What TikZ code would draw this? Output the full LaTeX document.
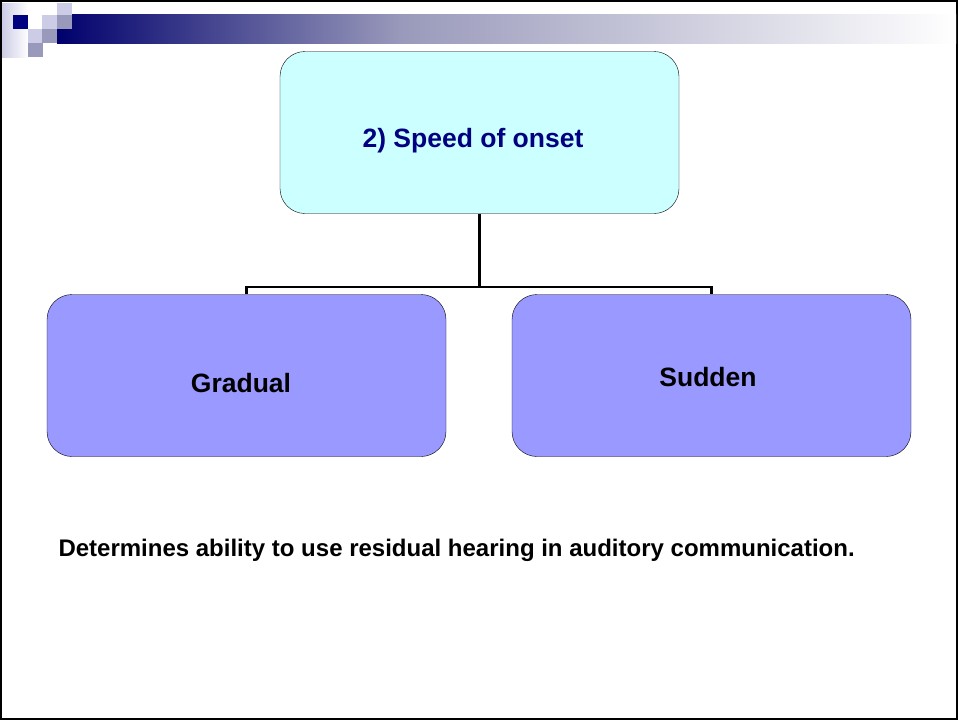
\documentclass[tikz,border=0pt]{standalone}
\usepackage{fontspec}
\setmainfont{Liberation Sans}
\usetikzlibrary{positioning}
\definecolor{navy}{HTML}{000080}
\definecolor{lav}{HTML}{9999BB}
\definecolor{lavlight}{HTML}{CCCCE6}
\definecolor{cyanbox}{HTML}{CCFFFF}
\definecolor{bluebox}{HTML}{9999FF}

\begin{document}
\begin{tikzpicture} [x=1pt, y=-1pt,
    box/.style={draw, rounded corners=25pt, minimum width=399pt, minimum height=162pt,
      inner sep=0pt},
    lbl/.style={font=\bfseries\fontsize{26.5}{30}\selectfont},
    tree/.style={line width=2.5pt}
  ]
  \useasboundingbox (0,0) rectangle (958,720);
  % slide frame
  \draw[line width=1.5pt] (1,1) rectangle (957,719);
  % title bar
  \shade[left color=lavlight, right color=white] (2,3) rectangle (28,57);
  \shade[left color=navy!85!black, right color=lav] (57,14) rectangle (400,43);
  \shade[left color=lav, right color=white] (400,14) rectangle (956,43);
  \fill[white] (57,14) rectangle (72,29);
  \fill[navy] (13,15) rectangle (28,29);
  \fill[lavlight] (28,29) rectangle (42,43);
  \fill[lav] (42,29) rectangle (57,43);
  \fill[lavlight] (42,15) rectangle (57,29);
  \fill[lav] (57,15) rectangle (72,29);
  \fill[lavlight] (57,3) rectangle (72,15);
  \fill[lav] (28,43) rectangle (43,57);

  \node[box, fill=cyanbox] (onset) at (479.5,132.5) {};
  \node[box, fill=bluebox] (gradual) at (246.5,375.5) {};
  \node[box, fill=bluebox] (sudden) at (711.5,375.5) {};
  \node[lbl, text=navy] (onsetlbl) at (473,141) {2) Speed of onset};
  \node[lbl] (gradlbl) at (241,383) {Gradual};
  \node[lbl] (sudlbl) at (708,377) {Sudden};

  \coordinate (fork) at (479.5,287);
  \draw[tree] (onset.south) -- (fork);
  \draw[tree] (gradual.north) |- (fork) -| (sudden.north);

  \node[anchor=west, font=\bfseries\fontsize{24}{28}\selectfont] (note) at (55,550)
    {Determines ability to use residual hearing in auditory communication.};
\end{tikzpicture}
\end{document}
